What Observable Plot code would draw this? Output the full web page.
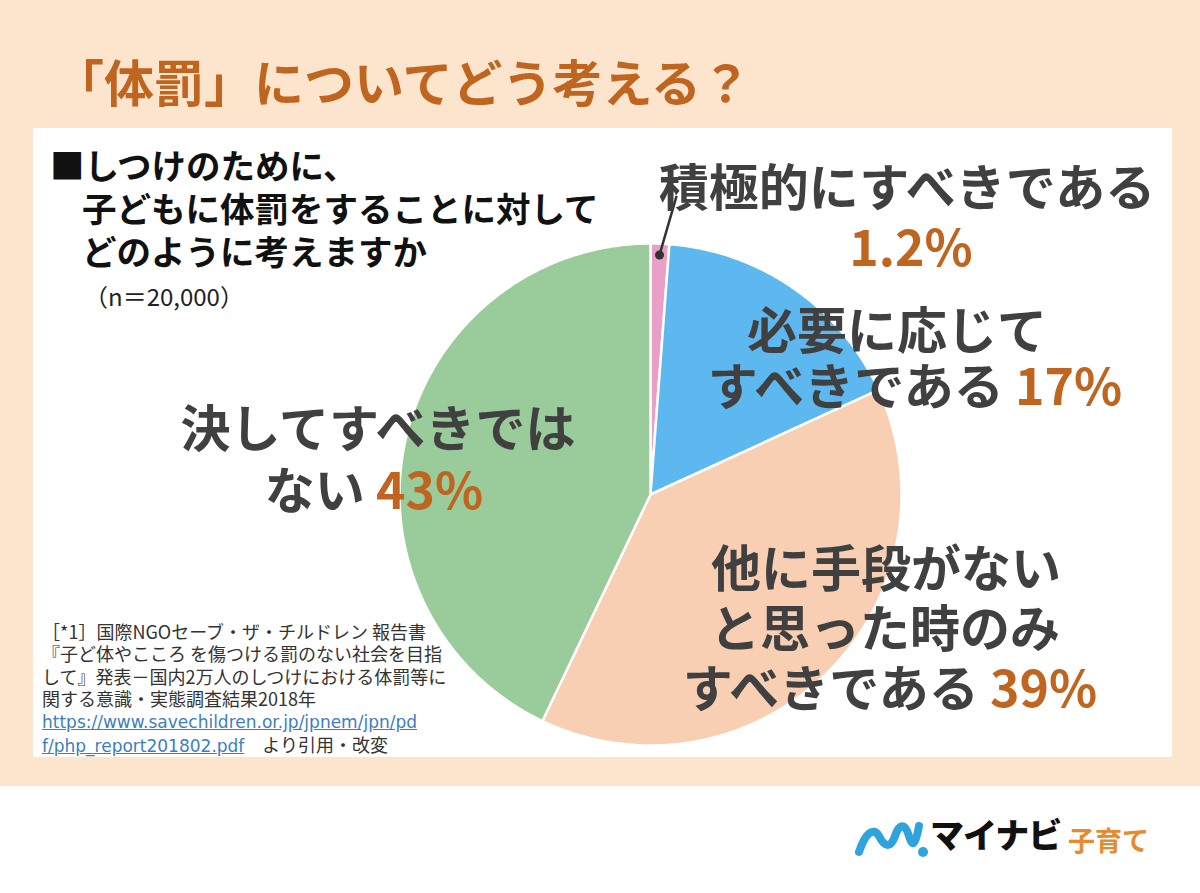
<!DOCTYPE html>
<html><head><meta charset="utf-8">
<script src="https://cdn.jsdelivr.net/npm/d3@7"></script>
<script src="https://cdn.jsdelivr.net/npm/@observablehq/plot@0.6"></script>
<style>
body{margin:0;}
#root{position:relative;width:1200px;height:893px;background:#fff;overflow:hidden;font-family:"Noto Sans CJK JP","Noto Sans",sans-serif;}
.abs{position:absolute;white-space:nowrap;}
.lbl{position:absolute;white-space:nowrap;transform:translate(-50%,-50%);line-height:1;font-weight:700;color:#404040;font-size:50px;}
.pct{color:#C0651F;}
</style></head>
<body>
<div id="root">
  <div class="abs" style="left:0;top:0;width:1200px;height:786px;background:#FCE4CD;"></div>
  <div class="abs" style="left:33px;top:128px;width:1139px;height:629px;background:#fff;"></div>
  <div class="abs" style="left:54px;top:55px;font-size:50px;line-height:1;font-weight:700;color:#C0651F;">「体罰」についてどう考える？</div>
  <div class="abs" style="left:50px;top:143px;font-size:34.5px;line-height:43px;font-weight:700;color:#111;">■しつけのために、<br><span style="padding-left:32px">子どもに体罰をすることに対して</span><br><span style="padding-left:32px">どのように考えますか</span></div>
  <div class="abs" style="left:84px;top:282px;font-size:24px;line-height:1.2;color:#222;">（n＝20,000）</div>
  <div id="chart" class="abs" style="left:0;top:0;"></div>
  <div id="labels"></div>
  <div class="abs" style="left:42px;top:620px;font-size:18px;line-height:22.3px;color:#333;">
    ［*1］国際NGOセーブ・ザ・チルドレン 報告書<br>
    『子ど体やこころ を傷つける罰のない社会を目指<br>
    して』発表－国内2万人のしつけにおける体罰等に<br>
    関する意識・実態調査結果2018年<br>
    <span style="color:#3C7EC0;text-decoration:underline;font-family:'DejaVu Sans','Noto Sans',sans-serif;font-size:17px;">https://www.savechildren.or.jp/jpnem/jpn/pd<br>f/php_report201802.pdf</span>　より引用・改変
  </div>
  <svg class="abs" style="left:855px;top:812px;" width="80" height="50" viewBox="0 0 80 50">
    <path d="M4 40 C10 22 18 14 24 24 C30 36 36 36 40 24 C44 12 50 10 54 24 C57 34 60 36 64 14" fill="none" stroke="#2FA3DC" stroke-width="8" stroke-linecap="round"/>
    <circle cx="68" cy="40" r="5" fill="#2FA3DC"/>
  </svg>
  <div class="abs" style="left:930px;top:817px;font-size:34px;line-height:1;font-weight:900;color:#111;letter-spacing:-1px;">マイナビ</div>
  <div class="abs" style="left:1068px;top:826px;font-size:27px;line-height:1;font-weight:700;color:#E8892E;">子育て</div>
</div>
<script>
const categories = ["積極的にすべきである","必要に応じてすべきである","他に手段がないと思った時のみすべきである","決してすべきではない"];
const values = [1.2, 17, 39, 43];
const sliceColors = ["#E8A0C8","#5DB8F0","#F8CFB3","#9ACB9A"];

const labelLines = [
  {text:"積極的にすべきである", cx:907, cy:184},
  {text:"<span class='pct'>1.2%</span>", cx:911, cy:244},
  {text:"必要に応じて", cx:897, cy:327},
  {text:"すべきである <span class='pct'>17%</span>", cx:915, cy:383},
  {text:"決してすべきでは", cx:378, cy:425},
  {text:"ない <span class='pct'>43%</span>", cx:374, cy:487},
  {text:"他に手段がない", cx:886, cy:565},
  {text:"と思った時のみ", cx:885, cy:625},
  {text:"すべきである <span class='pct'>39%</span>", cx:890, cy:685}
];

const cx = 650, cy = 494, R = 251;
const arcs = d3.pie().sort(null).value(d => d)(values);
const pts = [];
arcs.forEach((a, i) => {
  const key = categories[i];
  pts.push({key, x: 0, y: 0});
  const n = Math.max(4, Math.ceil((a.endAngle - a.startAngle) / (Math.PI / 360)));
  for (let k = 0; k <= n; k++) {
    const t = a.startAngle + (a.endAngle - a.startAngle) * k / n;
    pts.push({key, x: Math.sin(t), y: Math.cos(t)});
  }
});
const pinkMid = (arcs[0].startAngle + arcs[0].endAngle) / 2;
const leader = [{x1: 0.955 * Math.sin(pinkMid), y1: 0.955 * Math.cos(pinkMid), x2: 0.104, y2: 1.19}];

const plot = Plot.plot({
  width: 1200, height: 893, margin: 0,
  style: {background: "transparent", overflow: "visible"},
  x: {domain: [-1, 1], range: [cx - R, cx + R], axis: null},
  y: {domain: [-1, 1], range: [cy + R, cy - R], axis: null},
  color: {domain: categories, range: sliceColors},
  marks: [
    Plot.line(pts, {x: "x", y: "y", z: "key", fill: "key", stroke: "white", strokeWidth: 2.5, curve: "linear-closed"}),
    Plot.link(leader, {x1: "x1", y1: "y1", x2: "x2", y2: "y2", stroke: "#333", strokeWidth: 2.5}),
    Plot.dot(leader, {x: "x1", y: "y1", r: 4.5, fill: "#333", stroke: "none"})
  ]
});
document.getElementById("chart").appendChild(plot);

const lab = document.getElementById("labels");
labelLines.forEach(l => {
  const d = document.createElement("div");
  d.className = "lbl";
  d.style.left = l.cx + "px";
  d.style.top = l.cy + "px";
  d.innerHTML = l.text;
  lab.appendChild(d);
});
</script>
</body></html>
